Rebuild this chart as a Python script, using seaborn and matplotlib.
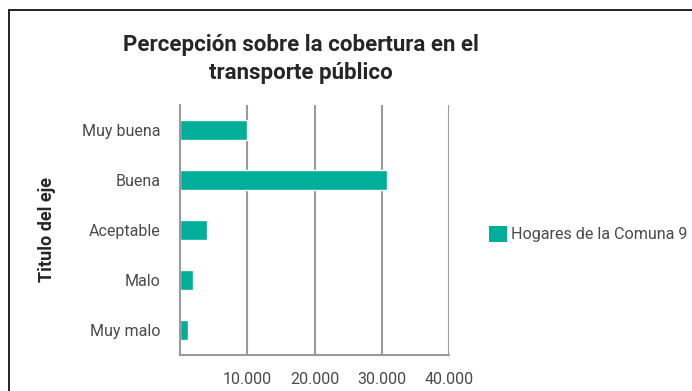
import matplotlib
matplotlib.use("Agg")
import matplotlib.pyplot as plt
from matplotlib.lines import Line2D
from matplotlib.patches import Patch
from matplotlib.ticker import FuncFormatter
import seaborn as sns
import pandas as pd

categorias = ["Muy buena", "Buena", "Aceptable", "Malo", "Muy malo"]
hogares = [9950, 30800, 4000, 1900, 1150]
serie = "Hogares de la Comuna 9"
x_ticks = [10000, 20000, 30000, 40000]

titulo = "Percepción sobre la cobertura en el\ntransporte público"
titulo_eje = "Titulo del eje"

color_barra = "#00AE9A"
color_texto = "#4A4A4A"
color_rejilla = "#9A9A9A"

sns.set_theme(style="white")
plt.rcParams["font.family"] = ["Roboto", "DejaVu Sans"]

df = pd.DataFrame({"categoria": categorias, "valor": hogares, "serie": serie})

fig = plt.figure(figsize=(6.92, 3.91), dpi=100)
ax = fig.add_axes([180 / 692, 1 - 355 / 391, (449 - 180) / 692, (355 - 105) / 391])

sns.barplot(data=df, x="valor", y="categoria", hue="serie", palette=[color_barra],
            orient="h", width=0.4, ax=ax, legend=False, saturation=1)

ax.set_xlim(0, 40000)
ax.set_xticks(x_ticks)
ax.xaxis.set_major_formatter(FuncFormatter(lambda v, _: f"{int(v):,}".replace(",", ".")))
ax.grid(axis="x", color=color_rejilla, linewidth=1.5)
ax.set_axisbelow(True)
for s in ["top", "right"]:
    ax.spines[s].set_visible(False)
for s in ["left", "bottom"]:
    ax.spines[s].set_color(color_rejilla)
    ax.spines[s].set_linewidth(1.5)
ax.tick_params(axis="both", length=0, labelsize=11.5, colors=color_texto)
ax.tick_params(axis="y", pad=14)
ax.tick_params(axis="x", pad=12)
ax.set_xlabel("")
ax.set_ylabel("")

fig.text(301 / 692, 1 - 59 / 391, titulo, ha="center", va="center",
         fontsize=16, fontweight="bold", color="#262626", linespacing=1.3)
fig.text(47 / 692, 1 - 229 / 391, titulo_eje, ha="center", va="center",
         rotation=90, fontsize=13, fontweight="bold", color="#262626")

fig.legend(handles=[Patch(facecolor=color_barra, edgecolor="none", label=serie)],
           loc="center left", bbox_to_anchor=(474 / 692, 1 - 234 / 391), frameon=False,
           prop={"size": 11.6}, handlelength=1.12, handleheight=1.12,
           handletextpad=0.3, labelcolor=color_texto)

# outer frame running off the right and bottom edges
fx, fy = 9 / 692, 1 - 10 / 391
fig.add_artist(Line2D([fx, fx], [0, fy], transform=fig.transFigure, color="#222222", linewidth=1.4))
fig.add_artist(Line2D([fx, 1], [fy, fy], transform=fig.transFigure, color="#222222", linewidth=1.4))

fig.savefig("out.png", dpi=100)
